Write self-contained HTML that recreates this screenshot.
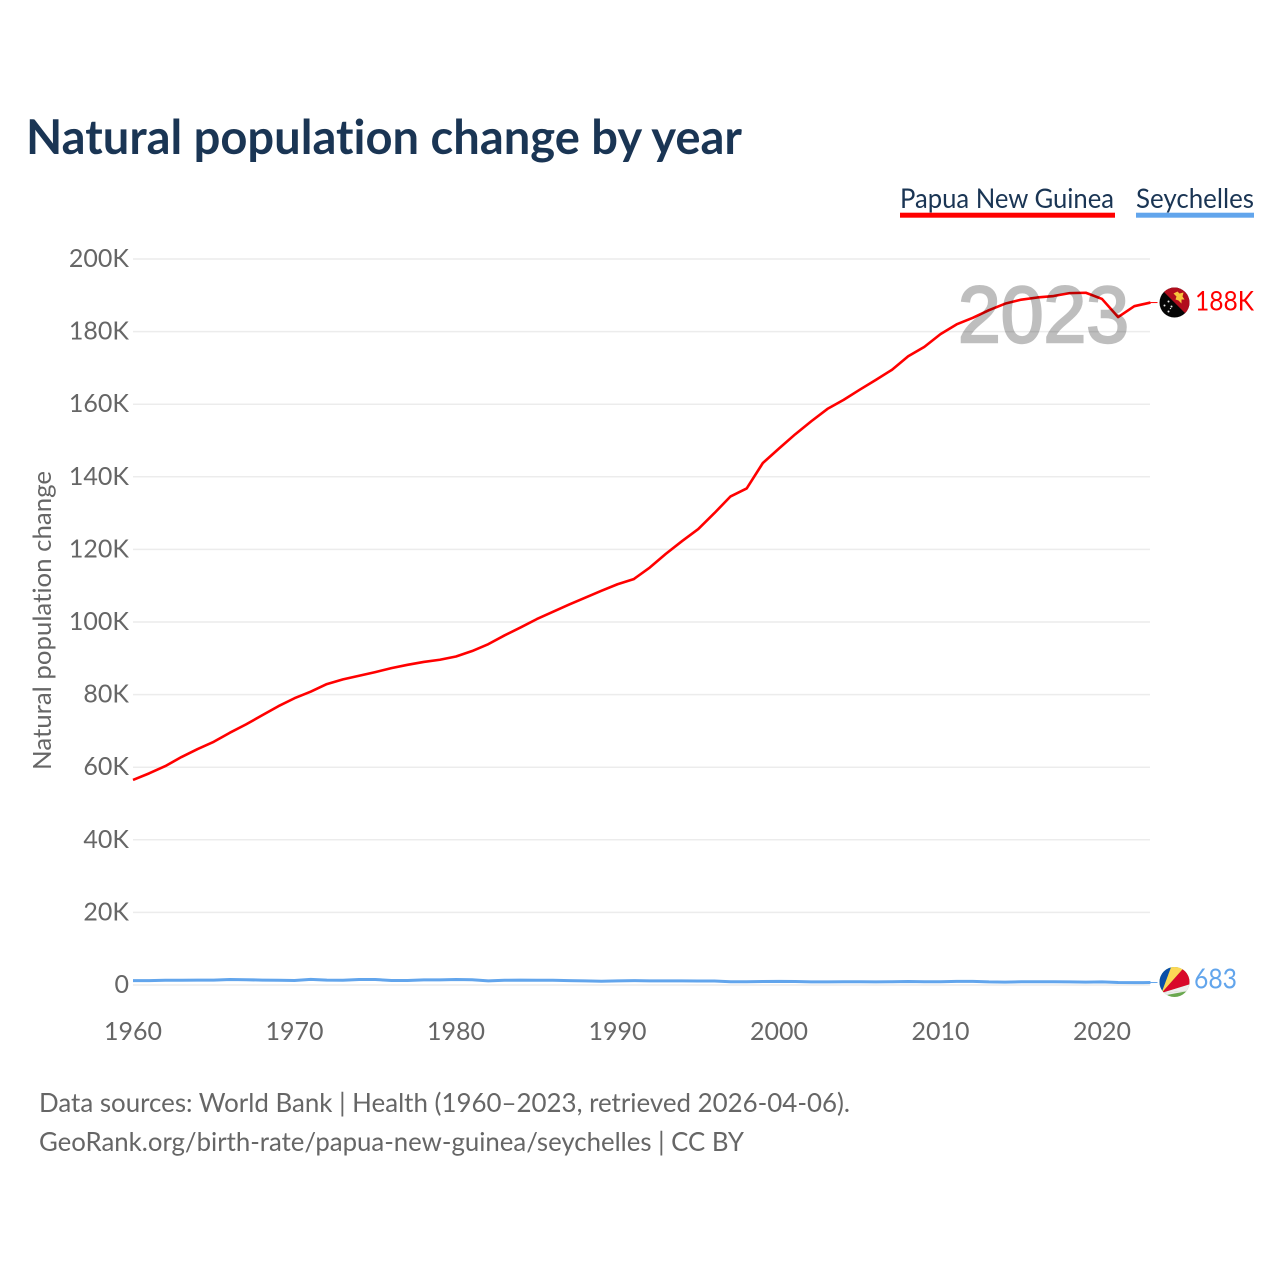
<!DOCTYPE html>
<html lang="en">
<head>
<meta charset="utf-8">
<title>Natural population change by year</title>
<style>
html,body{margin:0;padding:0;background:#fff;width:1280px;height:1280px;overflow:hidden}
svg{display:block}
text{font-family:"Lato","Carlito","Liberation Sans",sans-serif;font-variant-ligatures:none}
</style>
</head>
<body>
<svg id="chart" xmlns="http://www.w3.org/2000/svg" width="1280" height="1280" viewBox="0 0 1280 1280">
  <defs>
    <clipPath id="flag-clip"><circle cx="0" cy="0" r="15"/></clipPath>
  </defs>
  <text x="26" y="154" font-size="48" font-weight="700" fill="#1a3554" textLength="716" lengthAdjust="spacingAndGlyphs">Natural population change by year</text>

  <g>
    <text x="900" y="208" font-size="27.5" fill="#1a3554" textLength="214" lengthAdjust="spacingAndGlyphs">Papua New Guinea</text>
    <rect x="900" y="212.7" width="215" height="5" fill="#ff0000"/>
  </g>
  <g>
    <text x="1136" y="208" font-size="27.5" fill="#1a3554" textLength="118" lengthAdjust="spacingAndGlyphs">Seychelles</text>
    <rect x="1136" y="212.7" width="118" height="5" fill="#62a5ec"/>
  </g>

  <text transform="translate(51,770) rotate(-90)" x="0" y="0" font-size="25.5" fill="#666666" textLength="299" lengthAdjust="spacingAndGlyphs">Natural population change</text>

  <g id="grid"></g>
  <g id="y-ticks"></g>
  <g id="x-ticks"></g>

  <g id="series"></g>

  <text x="958" y="342" font-size="80" fill="#000000" stroke="#000000" stroke-width="2.4" opacity="0.25" textLength="171" lengthAdjust="spacingAndGlyphs" style="font-family:'Liberation Sans',sans-serif">2023</text>

  <g id="flag-png">
    <g clip-path="url(#flag-clip)">
      <rect x="-16" y="-16" width="32" height="32" fill="#050505"/>
      <polygon points="-16,-16 16,-16 16,16" fill="#b10d1d"/>
      <path d="M-1,-9 L3,-11 L5,-9 L9,-10 L8,-6 L10,-3 L7,-3 L7,1 L4,-2 L1,-3 L2,-6 Z" fill="#f6c53c"/>
      <circle cx="-6" cy="-1" r="1" fill="#e8e8e8"/>
      <circle cx="-10" cy="3" r="1" fill="#e8e8e8"/>
      <circle cx="-3" cy="4" r="1" fill="#e8e8e8"/>
      <circle cx="-6" cy="9" r="1" fill="#e8e8e8"/>
      <circle cx="-4" cy="6" r="0.7" fill="#e8e8e8"/>
    </g>
  </g>
  <g id="flag-sey">
    <g clip-path="url(#flag-clip)">
      <rect x="-16" y="-16" width="32" height="32" fill="#6aa84f"/>
      <polygon points="-13,11 -16,11 -16,-16 -3,-16" fill="#0a4fa8"/>
      <polygon points="-13,11 -3,-16 11,-16" fill="#fcd856"/>
      <polygon points="-13,11 11,-16 16,-9 16,2" fill="#d9082a"/>
      <polygon points="-13,11 16,2 16,8.5" fill="#eeeeee"/>
      <polygon points="-16,11 -13,11 16,8.5 -8,13 -16,16" fill="#eeeeee"/>
    </g>
  </g>
  <text id="label-png" x="1195" y="310" font-size="27" fill="#ff0000" textLength="59" lengthAdjust="spacingAndGlyphs"></text>
  <text id="label-sey" x="1194" y="988" font-size="28" fill="#62a5ec" textLength="43" lengthAdjust="spacingAndGlyphs"></text>

  <text x="39" y="1112" font-size="26.5" fill="#666666" textLength="811" lengthAdjust="spacingAndGlyphs">Data sources: World Bank | Health (1960–2023, retrieved 2026-04-06).</text>
  <text x="39" y="1151" font-size="26.5" fill="#666666" textLength="705" lengthAdjust="spacingAndGlyphs">GeoRank.org/birth-rate/papua-new-guinea/seychelles | CC BY</text>
</svg>
<script>
const startYear = 1960;
const xTickYears = [1960, 1970, 1980, 1990, 2000, 2010, 2020];
const yTickValues = [0, 20000, 40000, 60000, 80000, 100000, 120000, 140000, 160000, 180000, 200000];
const yTickLabels = ["0", "20K", "40K", "60K", "80K", "100K", "120K", "140K", "160K", "180K", "200K"];
const papuaNewGuinea = [56500, 58300, 60300, 62800, 65000, 67000, 69500, 71800, 74300, 76800,
  79000, 80800, 82900, 84200, 85200, 86200, 87300, 88200, 89000, 89600,
  90500, 92000, 93900, 96300, 98500, 100800, 102800, 104800, 106700, 108600,
  110400, 111800, 115000, 118800, 122300, 125600, 130000, 134600, 136800, 143800,
  147800, 151700, 155300, 158700, 161200, 164000, 166700, 169500, 173200, 175800,
  179300, 182000, 183800, 185900, 187700, 188800, 189400, 189800, 190600, 190700,
  189000, 184000, 187000, 188000];
const seychelles = [1200, 1200, 1300, 1300, 1350, 1350, 1500, 1450, 1350, 1300,
  1250, 1550, 1350, 1300, 1500, 1500, 1250, 1250, 1400, 1400,
  1500, 1450, 1150, 1300, 1350, 1300, 1300, 1200, 1150, 1050,
  1150, 1200, 1150, 1150, 1150, 1100, 1100, 900, 900, 950,
  1000, 950, 850, 850, 900, 900, 850, 900, 950, 900,
  900, 1000, 1000, 850, 800, 900, 900, 900, 850, 800,
  850, 700, 650, 683];
const latestLabels = ["188K", "683"];

function xScale(year) { return 133 + (year - 1960) * 16.15; }
function yScale(value) { return 985 - value * 0.00363; }

const NS = "http://www.w3.org/2000/svg";
const grid = document.getElementById("grid");
const yTicks = document.getElementById("y-ticks");
const xTicks = document.getElementById("x-ticks");
const seriesGroup = document.getElementById("series");

yTickValues.forEach(function (v, i) {
  const line = document.createElementNS(NS, "line");
  line.setAttribute("x1", 133);
  line.setAttribute("x2", 1150);
  line.setAttribute("y1", yScale(v));
  line.setAttribute("y2", yScale(v));
  line.setAttribute("stroke", "#ececec");
  line.setAttribute("stroke-width", "1.5");
  
  
  grid.appendChild(line);

  const t = document.createElementNS(NS, "text");
  t.setAttribute("x", 129);
  t.setAttribute("y", yScale(v) + 8);
  t.setAttribute("text-anchor", "end");
  t.setAttribute("font-size", "25");
  t.setAttribute("fill", "#666666");
  t.textContent = yTickLabels[i];
  
  
  yTicks.appendChild(t);
});

xTickYears.forEach(function (year) {
  const t = document.createElementNS(NS, "text");
  t.setAttribute("x", xScale(year));
  t.setAttribute("y", 1040);
  t.setAttribute("text-anchor", "middle");
  t.setAttribute("font-size", "25");
  t.setAttribute("fill", "#666666");
  t.textContent = String(year);
  
  
  xTicks.appendChild(t);
});

function pointsFor(values) {
  return values.map(function (v, i) { return xScale(startYear + i) + "," + yScale(v); }).join(" ");
}
function lastPoint(values) {
  return { x: xScale(startYear + values.length - 1), y: yScale(values[values.length - 1]) };
}

const lineSey = document.createElementNS(NS, "polyline");
lineSey.setAttribute("points", pointsFor(seychelles));
lineSey.setAttribute("fill", "none");
lineSey.setAttribute("stroke", "#62a5ec");
lineSey.setAttribute("stroke-width", "3");


seriesGroup.appendChild(lineSey);

const linePng = document.createElementNS(NS, "polyline");
linePng.setAttribute("points", pointsFor(papuaNewGuinea));
linePng.setAttribute("fill", "none");
linePng.setAttribute("stroke", "#ff0000");
linePng.setAttribute("stroke-width", "2.6");
linePng.setAttribute("stroke-linejoin", "round");


seriesGroup.appendChild(linePng);

const endPng = lastPoint(papuaNewGuinea);
const endSey = lastPoint(seychelles);

const connPng = document.createElementNS(NS, "line");
connPng.setAttribute("x1", endPng.x);
connPng.setAttribute("x2", 1157.5);
connPng.setAttribute("y1", endPng.y);
connPng.setAttribute("y2", endPng.y);
connPng.setAttribute("stroke", "#ff0000");
connPng.setAttribute("stroke-width", "1");


seriesGroup.appendChild(connPng);

const connSey = document.createElementNS(NS, "line");
connSey.setAttribute("x1", endSey.x);
connSey.setAttribute("x2", 1157.5);
connSey.setAttribute("y1", endSey.y);
connSey.setAttribute("y2", endSey.y);
connSey.setAttribute("stroke", "#62a5ec");
connSey.setAttribute("stroke-width", "1");


seriesGroup.appendChild(connSey);

document.getElementById("flag-png").setAttribute("transform", "translate(1174.5," + endPng.y + ")");
document.getElementById("flag-sey").setAttribute("transform", "translate(1174.5," + (endSey.y - 0.5) + ")");

const labelPng = document.getElementById("label-png");
labelPng.textContent = latestLabels[0];
labelPng.setAttribute("y", endPng.y + 8);
const labelSey = document.getElementById("label-sey");
labelSey.textContent = latestLabels[1];
labelSey.setAttribute("y", endSey.y + 6);
</script>
</body>
</html>
